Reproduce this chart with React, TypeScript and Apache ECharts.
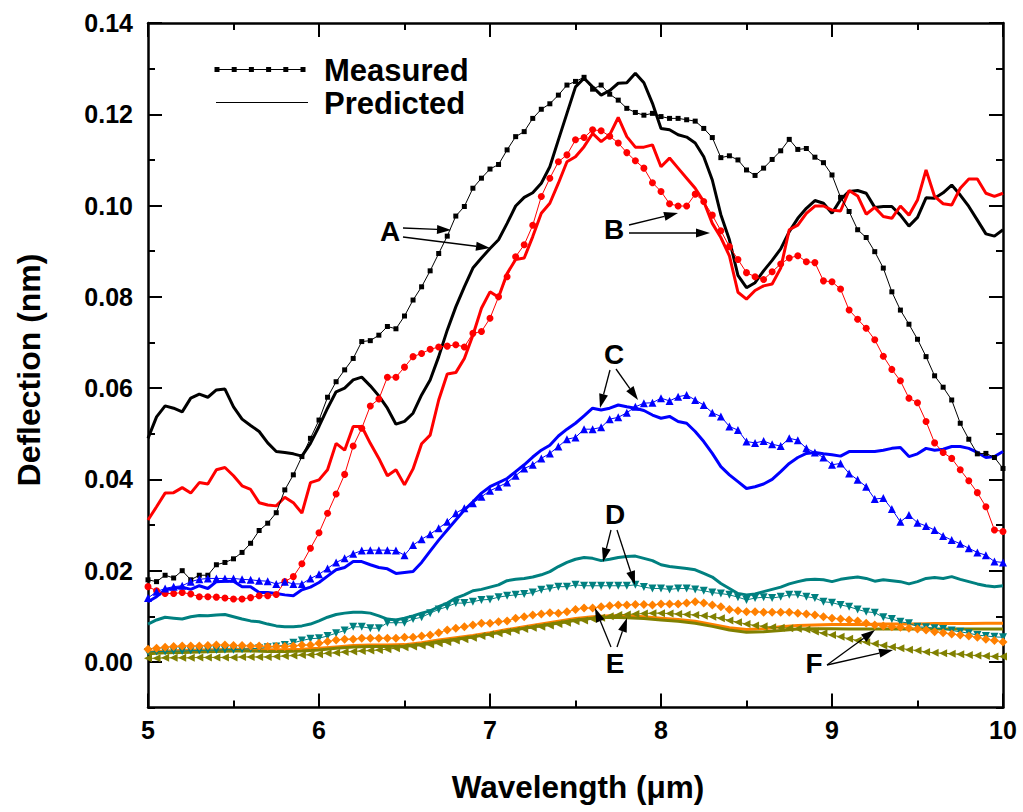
import React, { useEffect, useRef } from "react";
import * as echarts from "echarts";

// Wavelength sampling grids (µm)
const WL_FINE: number[] = Array.from({ length: 101 }, (_, i) => +(5 + i * 0.05).toFixed(2));
const WL_COARSE: number[] = Array.from({ length: 51 }, (_, i) => +(5 + i * 0.1).toFixed(1));

const X_TICKS = [5, 6, 7, 8, 9, 10];
const Y_TICKS = [0, 0.02, 0.04, 0.06, 0.08, 0.1, 0.12, 0.14];

// A (black)
const MEAS_A = [
  0.018, 0.0176, 0.019, 0.0184, 0.020, 0.018, 0.019, 0.019, 0.0213, 0.0218,
  0.0226, 0.024, 0.026, 0.0288, 0.0304, 0.0327, 0.0377, 0.041, 0.045, 0.049,
  0.053, 0.058, 0.0614, 0.064, 0.0665, 0.0702, 0.0704, 0.0716, 0.0735, 0.073,
  0.0758, 0.0793, 0.0822, 0.0857, 0.0895, 0.0933, 0.0977, 0.0998, 0.1038, 0.106,
  0.108, 0.109, 0.1122, 0.1151, 0.1162, 0.1191, 0.1211, 0.1223, 0.1242, 0.1264,
  0.1272, 0.1281, 0.1255, 0.1264, 0.1244, 0.1231, 0.1213, 0.1204, 0.1198, 0.1202,
  0.1195, 0.1191, 0.1191, 0.1188, 0.1185, 0.1169, 0.1149, 0.1105, 0.1109, 0.110,
  0.1078, 0.1066, 0.1082, 0.1101, 0.112, 0.1145, 0.1123, 0.1125, 0.1106, 0.1094,
  0.1067, 0.1018, 0.0987, 0.0947, 0.093, 0.0899, 0.0863, 0.0811, 0.0771, 0.074,
  0.0707, 0.0669, 0.0627, 0.0602, 0.0574, 0.0523, 0.0488, 0.0456, 0.0457, 0.0448,
  0.0424,
];
const PRED_A = [
  0.049, 0.0537, 0.0561, 0.0556, 0.0548, 0.0578, 0.0587, 0.058, 0.0596, 0.0598,
  0.0559, 0.0532, 0.0518, 0.0505, 0.048, 0.0461, 0.0459, 0.0456, 0.0451, 0.0479,
  0.0516, 0.0556, 0.0592, 0.060, 0.0618, 0.0624, 0.0605, 0.0583, 0.0556, 0.0521,
  0.0527, 0.0545, 0.0585, 0.0618, 0.0669, 0.0727, 0.0778, 0.0822, 0.0863, 0.0885,
  0.0906, 0.0925, 0.0961, 0.0999, 0.1018, 0.1028, 0.1049, 0.1085, 0.1144, 0.1202,
  0.126, 0.1279, 0.126, 0.1242, 0.1252, 0.1268, 0.1269, 0.129, 0.1269, 0.1224,
  0.1169, 0.1166, 0.1155, 0.115, 0.1137, 0.1107, 0.1056, 0.098, 0.0925, 0.0847,
  0.082, 0.0831, 0.0857, 0.088, 0.0905, 0.0943, 0.0972, 0.0994, 0.1011, 0.1005,
  0.0983, 0.1013, 0.1031, 0.1033, 0.1027, 0.0996, 0.0998, 0.0998, 0.0979, 0.0955,
  0.0974, 0.1017, 0.1016, 0.1028, 0.1045, 0.1023, 0.0998, 0.0968, 0.0938, 0.0933,
  0.0947,
];

// B (red)
const MEAS_B = [
  0.0165, 0.0156, 0.015, 0.015, 0.0152, 0.0149, 0.0143, 0.0143, 0.0142, 0.014,
  0.0138, 0.0138, 0.0141, 0.0145, 0.0145, 0.0148, 0.0176, 0.0187, 0.0215, 0.0249,
  0.0283, 0.0326, 0.0368, 0.0411, 0.0473, 0.0512, 0.0561, 0.0576, 0.0624, 0.0624,
  0.0646, 0.0669, 0.0676, 0.0685, 0.069, 0.0692, 0.0695, 0.069, 0.072, 0.0724,
  0.0753, 0.080, 0.0844, 0.0888, 0.0914, 0.0957, 0.102, 0.106, 0.1096, 0.1111,
  0.1144, 0.1149, 0.1166, 0.1164, 0.1152, 0.1137, 0.1116, 0.1098, 0.1082, 0.105,
  0.1031, 0.1004, 0.0999, 0.0999, 0.1025, 0.1009, 0.0979, 0.0945, 0.091, 0.0882,
  0.0853, 0.0844, 0.0838, 0.0855, 0.0872, 0.0885, 0.089, 0.0877, 0.0875, 0.0835,
  0.0833, 0.0817, 0.0771, 0.0751, 0.0731, 0.0706, 0.067, 0.0641, 0.0616, 0.0578,
  0.0568, 0.0527, 0.048, 0.0459, 0.0446, 0.0421, 0.0397, 0.0371, 0.034, 0.0289,
  0.0286,
];
const PRED_B = [
  0.0311, 0.034, 0.037, 0.0371, 0.0382, 0.037, 0.0393, 0.039, 0.0421, 0.0426,
  0.0408, 0.0386, 0.0378, 0.0349, 0.0344, 0.0342, 0.0361, 0.0349, 0.0326, 0.0393,
  0.0399, 0.0421, 0.0479, 0.0464, 0.0516, 0.0516, 0.0479, 0.0446, 0.0408, 0.0421,
  0.0388, 0.0423, 0.0478, 0.0497, 0.0574, 0.0631, 0.0634, 0.0665, 0.0716, 0.0775,
  0.0811, 0.0799, 0.0851, 0.0882, 0.0885, 0.0932, 0.0983, 0.1005, 0.1049, 0.1096,
  0.1107, 0.1129, 0.1158, 0.114, 0.1155, 0.1193, 0.1151, 0.1128, 0.1128, 0.1133,
  0.1085, 0.1104, 0.1082, 0.106, 0.1038, 0.1009, 0.0961, 0.093, 0.089, 0.081,
  0.0795, 0.0814, 0.0824, 0.0828, 0.0863, 0.0947, 0.0957, 0.0983, 0.0999, 0.0999,
  0.099, 0.0988, 0.1033, 0.1021, 0.0981, 0.0996, 0.0976, 0.0972, 0.0999, 0.0979,
  0.1012, 0.1078, 0.102, 0.1004, 0.1001, 0.1038, 0.1058, 0.1058, 0.1027, 0.102,
  0.1027,
];

// C (blue)
const MEAS_C = [
  0.014, 0.0154, 0.0161, 0.0165, 0.0167, 0.0176, 0.0181, 0.0183, 0.0183, 0.0183,
  0.0183, 0.0181, 0.018, 0.0178, 0.0177, 0.0171, 0.0176, 0.0171, 0.0171, 0.0183,
  0.0192, 0.0205, 0.0218, 0.0227, 0.0237, 0.0244, 0.0245, 0.0245, 0.0245, 0.0244,
  0.0234, 0.0256, 0.0269, 0.028, 0.0293, 0.0307, 0.0326, 0.0337, 0.0348, 0.0362,
  0.0375, 0.0384, 0.0393, 0.0408, 0.0424, 0.0432, 0.0446, 0.0457, 0.0472, 0.0488,
  0.0492, 0.051, 0.051, 0.0514, 0.0532, 0.0536, 0.0546, 0.0559, 0.0567, 0.0568,
  0.0578, 0.0572, 0.0581, 0.0585, 0.0574, 0.0563, 0.0546, 0.0538, 0.0516, 0.0508,
  0.0483, 0.048, 0.0484, 0.0477, 0.0473, 0.049, 0.0486, 0.0468, 0.0459, 0.0448,
  0.0432, 0.0435, 0.0413, 0.0399, 0.0384, 0.0357, 0.0359, 0.0335, 0.0307, 0.0322,
  0.0305, 0.0298, 0.0289, 0.0276, 0.0267, 0.0259, 0.0249, 0.024, 0.0234, 0.022,
  0.0218,
];
const PRED_C = [
  0.0132, 0.0143, 0.0158, 0.0161, 0.0164, 0.0159, 0.0167, 0.0161, 0.0176, 0.0177,
  0.0177, 0.0165, 0.0165, 0.0152, 0.0152, 0.015, 0.0147, 0.0145, 0.0158, 0.0164,
  0.0174, 0.0188, 0.0202, 0.0207, 0.022, 0.022, 0.0213, 0.0207, 0.0204, 0.0194,
  0.0196, 0.0198, 0.0218, 0.0243, 0.0267, 0.0289, 0.0311, 0.0333, 0.0351, 0.037,
  0.0384, 0.0393, 0.0402, 0.0417, 0.0432, 0.0449, 0.0464, 0.0475, 0.0495, 0.051,
  0.0523, 0.0539, 0.0556, 0.0552, 0.0556, 0.0563, 0.0559, 0.0556, 0.0551, 0.0541,
  0.0534, 0.0538, 0.0527, 0.0523, 0.0505, 0.0483, 0.0457, 0.0428, 0.041, 0.0395,
  0.038, 0.0384, 0.039, 0.040, 0.0417, 0.0435, 0.0448, 0.0457, 0.0459, 0.0456,
  0.0454, 0.0451, 0.0461, 0.0461, 0.0461, 0.0461, 0.0464, 0.0468, 0.047, 0.045,
  0.0456, 0.0468, 0.0464, 0.0466, 0.0472, 0.0472, 0.0468, 0.0459, 0.0448, 0.045,
  0.0461,
];

// D (teal)
const MEAS_D = [
  0.0022, 0.0023, 0.0023, 0.0024, 0.0024, 0.0025, 0.0025, 0.0026, 0.0026, 0.0027,
  0.0027, 0.0028, 0.0029, 0.003, 0.0032, 0.0034, 0.0037, 0.0042, 0.0047, 0.0051,
  0.0052, 0.0057, 0.0063, 0.0069, 0.0077, 0.0077, 0.0074, 0.0074, 0.0086, 0.0086,
  0.0086, 0.0094, 0.0098, 0.0107, 0.0115, 0.0121, 0.0129, 0.0129, 0.0132, 0.0136,
  0.0137, 0.0142, 0.0145, 0.0147, 0.0149, 0.0152, 0.0158, 0.0161, 0.0165, 0.0165,
  0.0169, 0.0167, 0.0167, 0.0167, 0.0167, 0.0167, 0.0167, 0.0169, 0.0164, 0.0161,
  0.0161, 0.0159, 0.0161, 0.0161, 0.0159, 0.0156, 0.0152, 0.015, 0.0147, 0.0142,
  0.0136, 0.014, 0.0142, 0.014, 0.0143, 0.0147, 0.0147, 0.0143, 0.014, 0.0132,
  0.013, 0.0125, 0.0121, 0.0115, 0.011, 0.0108, 0.0098, 0.0094, 0.0088, 0.0085,
  0.0077, 0.0076, 0.0074, 0.0072, 0.0069, 0.0066, 0.0063, 0.0059, 0.0057, 0.0055,
  0.0054,
];
const PRED_D = [
  0.0083, 0.0092, 0.0098, 0.0096, 0.0094, 0.0099, 0.0102, 0.0101, 0.0103, 0.0104,
  0.0099, 0.0094, 0.009, 0.0088, 0.0083, 0.0079, 0.0077, 0.0077, 0.0079, 0.0083,
  0.009, 0.0098, 0.0104, 0.0107, 0.0109, 0.0109, 0.0107, 0.0101, 0.0094, 0.0092,
  0.0096, 0.0101, 0.0107, 0.0112, 0.0121, 0.0129, 0.014, 0.0147, 0.0156, 0.0159,
  0.0164, 0.0169, 0.0178, 0.0181, 0.0183, 0.0186, 0.0191, 0.0198, 0.0209, 0.0218,
  0.0225, 0.0229, 0.0227, 0.0222, 0.0225, 0.0229, 0.0231, 0.0232, 0.0227, 0.0222,
  0.0213, 0.0209, 0.0207, 0.0205, 0.0202, 0.0194, 0.0186, 0.0172, 0.0161, 0.015,
  0.0147, 0.0149, 0.0154, 0.0159, 0.0164, 0.0171, 0.0176, 0.018, 0.0181, 0.018,
  0.0176, 0.0181, 0.0184, 0.0186, 0.0183, 0.0177, 0.018, 0.0178, 0.0176, 0.0171,
  0.0176, 0.0183, 0.0185, 0.0183, 0.0187, 0.0181, 0.0176, 0.0171, 0.0167, 0.0165,
  0.0167,
];

// E (orange)
const MEAS_E = [
  0.0028, 0.003, 0.0032, 0.0034, 0.0035, 0.0035, 0.0035, 0.0036, 0.0037, 0.0037,
  0.0036, 0.0036, 0.0035, 0.0035, 0.0034, 0.0034, 0.0034, 0.0035, 0.0037, 0.0037,
  0.0041, 0.0045, 0.0048, 0.005, 0.005, 0.0052, 0.0052, 0.0052, 0.0052, 0.0052,
  0.0054, 0.0054, 0.0057, 0.0059, 0.0064, 0.007, 0.0074, 0.0077, 0.0081, 0.0085,
  0.0085, 0.0088, 0.009, 0.0096, 0.0099, 0.0103, 0.0105, 0.0108, 0.0107, 0.011,
  0.0115, 0.0118, 0.0118, 0.0121, 0.0123, 0.0125, 0.0125, 0.0126, 0.0126, 0.0125,
  0.0127, 0.0127, 0.0127, 0.0129, 0.0132, 0.0129, 0.0125, 0.0121, 0.0115, 0.0112,
  0.011, 0.011, 0.0109, 0.0109, 0.0109, 0.0109, 0.0107, 0.0105, 0.0103, 0.0099,
  0.0096, 0.0094, 0.0092, 0.009, 0.0085, 0.0081, 0.0079, 0.0077, 0.0076, 0.0074,
  0.0072, 0.007, 0.0066, 0.0064, 0.0061, 0.0059, 0.0057, 0.0054, 0.005, 0.0047,
  0.0044,
];
const PRED_E = [
  0.0022, 0.0024, 0.0025, 0.0026, 0.0027, 0.0028, 0.0028, 0.0027, 0.0027, 0.0028,
  0.003, 0.0033, 0.0036, 0.0037, 0.0037, 0.0038, 0.0042, 0.0048, 0.0053, 0.0058,
  0.0064, 0.0071, 0.0077, 0.0083, 0.0089, 0.0095, 0.0099, 0.0101, 0.0101, 0.0099,
  0.0096, 0.0093, 0.0089, 0.0082, 0.0075, 0.0071, 0.0073, 0.0077, 0.008, 0.0081,
  0.0082, 0.0082, 0.0082, 0.0083, 0.0083, 0.0083, 0.0084, 0.0084, 0.0084, 0.0085,
  0.0085,
];

// F (olive)
const MEAS_F = [
  0.0008, 0.0008, 0.0009, 0.0009, 0.0009, 0.0009, 0.001, 0.001, 0.001, 0.001,
  0.001, 0.0011, 0.0011, 0.0011, 0.0011, 0.0012, 0.0013, 0.0014, 0.0015, 0.0016,
  0.0017, 0.0019, 0.002, 0.0022, 0.0023, 0.0024, 0.0025, 0.0026, 0.0028, 0.003,
  0.0032, 0.0034, 0.0036, 0.0038, 0.0041, 0.0044, 0.0047, 0.005, 0.0053, 0.0057,
  0.006, 0.0063, 0.0066, 0.0069, 0.0072, 0.0075, 0.0077, 0.008, 0.0083, 0.0086,
  0.0089, 0.0091, 0.0094, 0.0097, 0.01, 0.0103, 0.0104, 0.0105, 0.0106, 0.0107,
  0.0107, 0.0106, 0.0105, 0.0104, 0.0103, 0.0101, 0.0099, 0.0096, 0.0091, 0.0087,
  0.0083, 0.008, 0.0078, 0.0076, 0.0075, 0.0074, 0.0073, 0.0071, 0.0067, 0.0063,
  0.0059, 0.0055, 0.0051, 0.0047, 0.0043, 0.004, 0.0036, 0.0033, 0.003, 0.0027,
  0.0025, 0.0022, 0.002, 0.0019, 0.0018, 0.0017, 0.0015, 0.0014, 0.0013, 0.0012,
  0.0012,
];
const PRED_F = [
  0.0018, 0.002, 0.0021, 0.0022, 0.0023, 0.0024, 0.0024, 0.0023, 0.0023, 0.0024,
  0.0026, 0.003, 0.0033, 0.0034, 0.0034, 0.0035, 0.0039, 0.0045, 0.005, 0.0055,
  0.0061, 0.0068, 0.0074, 0.008, 0.0086, 0.0092, 0.0096, 0.0098, 0.0097, 0.0095,
  0.0092, 0.0089, 0.0085, 0.0078, 0.007, 0.0065, 0.0066, 0.0069, 0.0072, 0.0073,
  0.0073, 0.0072, 0.0072, 0.0072, 0.0072, 0.0072, 0.0072, 0.0072, 0.0072, 0.0072,
  0.0072,
];

const FONT = 'Arial, "Liberation Sans", Helvetica, sans-serif';

const pairs = (xs: number[], ys: number[]) => ys.map((y, i) => [xs[i], y]);

function arrow(x1: number, y1: number, x2: number, y2: number) {
  const L = 14, W = 4.5;
  const dx = x2 - x1, dy = y2 - y1;
  const len = Math.hypot(dx, dy);
  const ux = dx / len, uy = dy / len;
  const bx = x2 - ux * L, by = y2 - uy * L;
  return [
    { type: "line", shape: { x1, y1, x2: bx, y2: by }, style: { stroke: "#000", lineWidth: 1.3 }, z: 100 },
    {
      type: "polygon",
      shape: { points: [[x2, y2], [bx - uy * W, by + ux * W], [bx + uy * W, by - ux * W]] },
      style: { fill: "#000" },
      z: 100,
    },
  ];
}

function label(text: string, x: number, y: number) {
  return {
    type: "text",
    x,
    y,
    z: 100,
    style: { text, fontSize: 28, fontWeight: "bold", fontFamily: FONT, fill: "#000", align: "center", verticalAlign: "middle" },
  };
}

export default function App() {
  const ref = useRef<HTMLDivElement>(null);

  useEffect(() => {
    if (!ref.current) return;
    const chart = echarts.init(ref.current, undefined, { renderer: "svg" });

    const measured = (name: string, data: number[], color: string, symbol: string, size: number, rotate = 0) => ({
      name,
      type: "line",
      xAxisIndex: 0,
      yAxisIndex: 0,
      data: pairs(WL_FINE, data),
      symbol,
      symbolSize: size,
      symbolRotate: rotate,
      showSymbol: true,
      lineStyle: { color, width: 1 },
      itemStyle: { color, borderWidth: 0 },
      z: 3,
    });
    const predicted = (name: string, xs: number[], data: number[], color: string) => ({
      name,
      type: "line",
      xAxisIndex: 0,
      yAxisIndex: 0,
      data: pairs(xs, data),
      showSymbol: false,
      symbol: "none",
      lineStyle: { color, width: 3 },
      z: 2,
    });

    const axisLineStyle = { color: "#000", width: 2.5 };
    const tickLabel = { fontSize: 25, fontWeight: "bold", color: "#000", fontFamily: FONT };

    const legendSquares = [0, 1, 2, 3, 4, 5].map((i) => ({
      type: "rect",
      shape: { x: 214.5 + i * 17.2, y: 67, width: 5, height: 5 },
      style: { fill: "#000" },
      z: 100,
    }));

    const option: any = {
      animation: false,
      backgroundColor: "#fff",
      grid: [
        { left: 148, right: 20, top: 23, bottom: 104.4, containLabel: false },
        { left: 148, right: 20, top: 23, bottom: 150, containLabel: false },
      ],
      xAxis: [
        {
          type: "value", gridIndex: 0, position: "bottom", min: 5, max: 10, interval: 1,
          axisLine: { show: true, onZero: false, lineStyle: axisLineStyle },
          axisTick: { show: true, inside: true, length: 14, lineStyle: { color: "#000", width: 2 } },
          minorTick: { show: true, splitNumber: 2, length: 7, lineStyle: { color: "#000", width: 2 } },
          axisLabel: { ...tickLabel, margin: 10, formatter: (v: number) => (X_TICKS.includes(Math.round(v)) ? String(Math.round(v)) : "") },
          splitLine: { show: false },
        },
        {
          type: "value", gridIndex: 0, position: "top", min: 5, max: 10, interval: 1,
          axisLine: { show: true, onZero: false, lineStyle: axisLineStyle },
          axisTick: { show: true, inside: true, length: 14, lineStyle: { color: "#000", width: 2 } },
          minorTick: { show: true, splitNumber: 2, length: 7, lineStyle: { color: "#000", width: 2 } },
          axisLabel: { show: false },
          splitLine: { show: false },
        },
        { type: "value", gridIndex: 1, min: 5, max: 10, show: false },
      ],
      yAxis: [
        {
          type: "value", gridIndex: 0, position: "left", min: -0.01, max: 0.14, interval: 0.01,
          axisLine: { show: true, onZero: false, lineStyle: axisLineStyle },
          axisTick: { show: true, inside: true, length: 7, lineStyle: { color: "#000", width: 2 } },
          axisLabel: { show: false },
          splitLine: { show: false },
        },
        {
          type: "value", gridIndex: 0, position: "right", min: -0.01, max: 0.14, interval: 0.01,
          axisLine: { show: true, onZero: false, lineStyle: axisLineStyle },
          axisTick: { show: true, inside: true, length: 7, lineStyle: { color: "#000", width: 2 } },
          axisLabel: { show: false },
          splitLine: { show: false },
        },
        {
          type: "value", gridIndex: 1, position: "left", min: 0, max: 0.14, interval: 0.02,
          axisLine: { show: false },
          axisTick: { show: true, inside: true, length: 14, lineStyle: { color: "#000", width: 2 } },
          axisLabel: {
            ...tickLabel, margin: 15,
            formatter: (v: number) => {
              const m = Y_TICKS.find((t) => Math.abs(t - v) < 1e-6);
              return m === undefined ? "" : m.toFixed(2);
            },
          },
          splitLine: { show: false },
        },
        {
          type: "value", gridIndex: 1, position: "right", min: 0, max: 0.14, interval: 0.02,
          axisLine: { show: false },
          axisTick: { show: true, inside: true, length: 14, lineStyle: { color: "#000", width: 2 } },
          axisLabel: { show: false },
          splitLine: { show: false },
        },
      ],
      series: [
        predicted("Predicted A", WL_FINE, PRED_A, "#000000"),
        predicted("Predicted B", WL_FINE, PRED_B, "#FF0000"),
        predicted("Predicted C", WL_FINE, PRED_C, "#0000FF"),
        predicted("Predicted D", WL_FINE, PRED_D, "#008080"),
        predicted("Predicted E", WL_COARSE, PRED_E, "#FF8000"),
        predicted("Predicted F", WL_COARSE, PRED_F, "#808000"),
        measured("Measured A", MEAS_A, "#000000", "rect", 5),
        measured("Measured B", MEAS_B, "#FF0000", "circle", 7),
        measured("Measured C", MEAS_C, "#0000FF", "triangle", 8),
        measured("Measured D", MEAS_D, "#008080", "triangle", 8, 180),
        measured("Measured E", MEAS_E, "#FF8000", "diamond", 9),
        measured("Measured F", MEAS_F, "#808000", "triangle", 8, 90),
      ],
      graphic: [
        // legend
        { type: "line", shape: { x1: 216, y1: 69.5, x2: 304, y2: 69.5 }, style: { stroke: "#000", lineWidth: 1.2 }, z: 100 },
        ...legendSquares,
        { type: "text", x: 324, y: 70, z: 100, style: { text: "Measured", fontSize: 31, fontWeight: "bold", fontFamily: FONT, fill: "#000", align: "left", verticalAlign: "middle" } },
        { type: "line", shape: { x1: 216, y1: 102.5, x2: 308, y2: 102.5 }, style: { stroke: "#000", lineWidth: 1.2 }, z: 100 },
        { type: "text", x: 324, y: 103, z: 100, style: { text: "Predicted", fontSize: 31, fontWeight: "bold", fontFamily: FONT, fill: "#000", align: "left", verticalAlign: "middle" } },
        // axis titles
        { type: "text", x: 578, y: 787, z: 100, style: { text: "Wavelength (\u03bcm)", fontSize: 31.5, fontWeight: "bold", fontFamily: FONT, fill: "#000", align: "center", verticalAlign: "middle" } },
        { type: "text", x: 29, y: 370, rotation: Math.PI / 2, z: 100, style: { text: "Deflection (nm)", fontSize: 32, fontWeight: "bold", fontFamily: FONT, fill: "#000", align: "center", verticalAlign: "middle" } },
        // annotations
        label("A", 390, 231),
        ...arrow(403, 228, 451, 230),
        ...arrow(403, 237, 490, 248),
        label("B", 614, 229),
        ...arrow(629, 225, 678, 213),
        ...arrow(629, 233, 710, 233),
        label("C", 614, 354),
        ...arrow(610, 370, 600, 408),
        ...arrow(616, 369, 638, 400),
        label("D", 615, 514),
        ...arrow(611, 530, 603, 562),
        ...arrow(617, 530, 635, 585),
        label("E", 615, 663),
        ...arrow(611, 647, 595, 608),
        ...arrow(617, 647, 627, 618),
        label("F", 814, 663),
        ...arrow(827, 665, 875, 630),
        ...arrow(827, 665, 893, 650),
      ],
    };

    chart.setOption(option);
    return () => chart.dispose();
  }, []);

  return (
    <div
      ref={ref}
      style={{ position: "absolute", left: 0, top: 0, width: 1023, height: 812, background: "#fff" }}
    />
  );
}
